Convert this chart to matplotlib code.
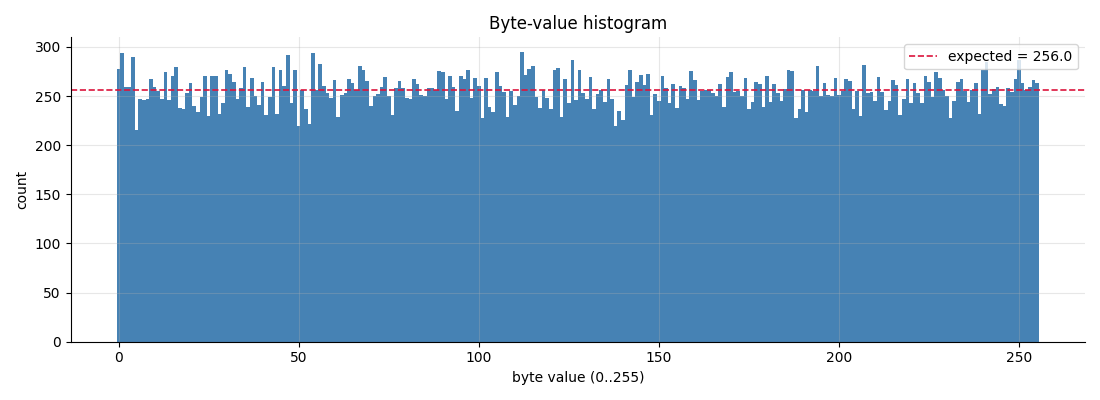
import numpy as np
import matplotlib
matplotlib.use("Agg")
import matplotlib.pyplot as plt

# counts per byte value
byte_values = np.arange(256)
counts = [
    278, 294, 259, 259, 290, 215, 247, 246, 247, 267, 259, 255, 247, 274, 246, 270,
    280, 238, 237, 253, 263, 240, 234, 249, 270, 230, 270, 270, 232, 243, 276, 272,
    264, 247, 258, 280, 239, 268, 250, 241, 264, 231, 249, 280, 232, 276, 260, 292,
    243, 277, 220, 256, 237, 222, 294, 256, 283, 260, 253, 248, 266, 229, 251, 253,
    267, 263, 256, 281, 277, 265, 240, 250, 252, 259, 269, 250, 231, 258, 265, 258,
    248, 247, 267, 262, 251, 250, 258, 258, 256, 275, 274, 247, 270, 259, 235, 270,
    267, 277, 248, 268, 260, 228, 268, 239, 234, 274, 260, 254, 229, 255, 241, 250,
    295, 271, 278, 281, 249, 238, 256, 248, 237, 277, 279, 229, 267, 243, 287, 246,
    277, 253, 247, 269, 237, 252, 256, 244, 267, 247, 220, 235, 226, 261, 277, 249,
    264, 271, 261, 272, 231, 252, 245, 270, 258, 243, 262, 238, 260, 258, 247, 275,
    266, 246, 255, 256, 256, 253, 250, 262, 239, 269, 274, 254, 255, 250, 268, 237,
    244, 264, 262, 239, 270, 244, 262, 253, 245, 257, 276, 275, 228, 237, 256, 234,
    256, 255, 281, 250, 263, 251, 250, 268, 251, 255, 267, 265, 237, 255, 230, 282,
    253, 254, 245, 269, 254, 236, 245, 266, 261, 231, 247, 267, 243, 263, 253, 243,
    270, 264, 249, 274, 268, 256, 250, 228, 245, 264, 267, 255, 244, 256, 263, 232,
    276, 285, 252, 257, 259, 242, 240, 258, 254, 267, 287, 263, 256, 259, 266, 263,
]
expected = 256.0

fig, ax = plt.subplots(figsize=(11, 4), dpi=100)
ax.hist(byte_values, bins=np.arange(257) - 0.5, weights=counts, color="steelblue")
ax.axhline(expected, color="crimson", linestyle="--", linewidth=1.2,
           label=f"expected = {expected}")

ax.set_title("Byte-value histogram")
ax.set_xlabel("byte value (0..255)")
ax.set_ylabel("count")
ax.grid(True, alpha=0.3)
ax.spines["top"].set_visible(False)
ax.spines["right"].set_visible(False)
ax.legend(loc="upper right")

plt.tight_layout()
plt.savefig("out.png")
